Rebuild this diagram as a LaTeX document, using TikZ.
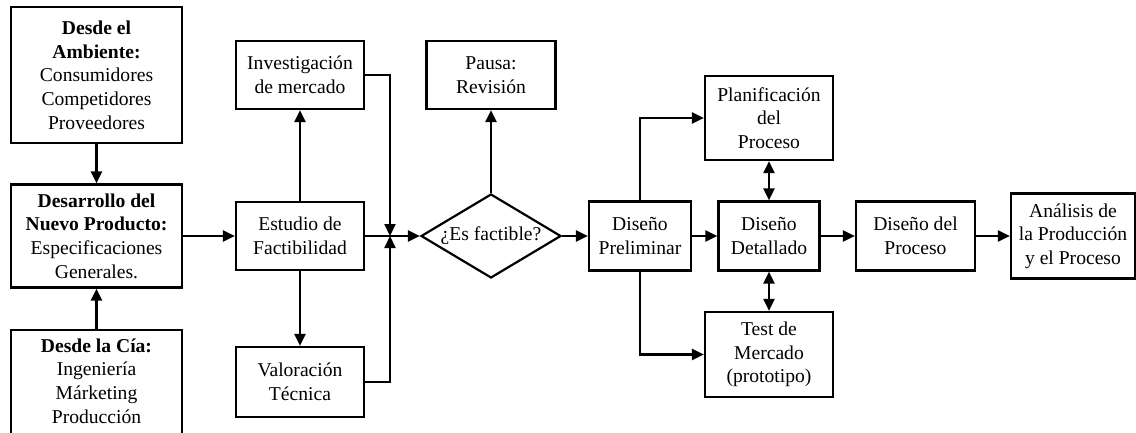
\documentclass[tikz,border=0pt]{standalone}
\usepackage{fontspec}
\setmainfont{Liberation Serif}
\usetikzlibrary{arrows.meta,shapes.geometric}
\begin{document}
\begin{tikzpicture}[x=1pt,y=-1pt,
  txt/.style={align=center, inner sep=0pt, font=\fontsize{19.6}{23.7}\selectfont},
  box/.style={txt, draw, line width=2.2pt},
  tip/.style={-{Triangle[length=12pt,width=11pt]}},
  link/.style={line width=2.2pt, tip},
  both/.style={line width=2.2pt, {Triangle[length=12pt,width=11pt]}-{Triangle[length=12pt,width=11pt]}}]
\useasboundingbox (0,0) rectangle (1136,432);
\clip (0,0) rectangle (1136,432);

% left column: sources and product development
\node[box, minimum width=171pt, minimum height=136pt] (amb) at (96.5,75)
  {\textbf{Desde el}\\\textbf{Ambiente:}\\Consumidores\\Competidores\\Proveedores};
\node[box, minimum width=171pt, minimum height=103pt] (des) at (96.5,236)
  {\textbf{Desarrollo del}\\\textbf{Nuevo Producto:}\\Especificaciones\\Generales.};
\node[draw, line width=2.2pt, minimum width=171pt, minimum height=124pt, inner sep=0pt] (cia) at (96.5,392) {};
\node[txt] (ciatext) at (96.5,381)
  {\textbf{Desde la Cía:}\\Ingeniería\\Márketing\\Producción};

% feasibility study
\node[box, minimum width=128pt, minimum height=68pt] (inv) at (300,75) {Investigación\\de mercado};
\node[box, minimum width=128pt, minimum height=68pt] (est) at (300,236) {Estudio de\\Factibilidad};
\node[box, minimum width=128pt, minimum height=70pt] (val) at (300,382) {Valoración\\Técnica};
\coordinate (j) at (390,236);

% decision
\node[txt, draw, line width=2.2pt, diamond, aspect=1.667, minimum width=140pt, minimum height=84pt] (dia) at (491,236) {¿Es factible?};
\node[box, minimum width=129pt, minimum height=68pt] (pau) at (491,75) {Pausa:\\Revisión};

% design stages
\node[box, minimum width=102pt, minimum height=69pt] (pre) at (640,236) {Diseño\\Preliminar};
\node[box, minimum width=128pt, minimum height=84pt] (pla) at (769,118) {Planificación\\del\\Proceso};
\node[box, minimum width=101pt, minimum height=69pt] (det) at (769,236) {Diseño\\Detallado};
\node[box, minimum width=128pt, minimum height=85pt] (tes) at (769,354.5) {Test de\\Mercado\\(prototipo)};
\node[box, minimum width=119pt, minimum height=69pt] (dpr) at (915.5,236) {Diseño del\\Proceso};
\node[box, minimum width=124pt, minimum height=85pt] (ana) at (1073,236) {Análisis de\\la Producción\\y el Proceso};

% connectors
\draw[link] (amb) -- (des);
\draw[link] (cia) -- (des);
\draw[link] (des) -- (est);
\draw[link] (est) -- (inv);
\draw[link] (est) -- (val);
\draw[link] (inv.east) -| (j);
\draw[link] (val.east) -| (j);
\draw[link] (est.east) -- (dia.west);
\draw[link] (dia.north) -- (dia.north |- pau.south);
\draw[link] (dia.east) -- (pre.west);
\draw[link] (pre.north) |- (pla.west);
\draw[link] (pre.south) |- (tes.west);
\draw[link] (pre.east) -- (det.west);
\draw[both] (pla.south) -- (pla.south |- det.north);
\draw[both] (det.south) -- (det.south |- tes.north);
\draw[link] (det.east) -- (dpr.west);
\draw[link] (dpr.east) -- (ana.west);
\end{tikzpicture}
\end{document}
